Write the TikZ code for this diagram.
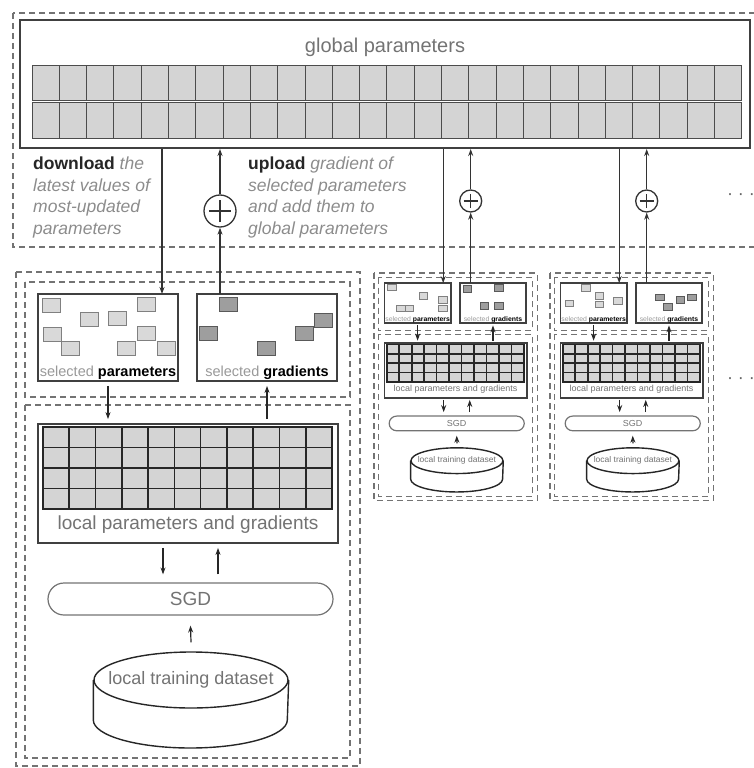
\documentclass[tikz,border=0pt]{standalone}
\usepackage{fontspec}
\setmainfont{Liberation Sans}
\usepackage{tikz}
\usetikzlibrary{arrows.meta, shapes.geometric, shapes.misc}

% one worker replica, drawn in its own frame (x right, y down)
\newcommand{\worker}[2]{%
  \draw[dashbox] (0,0) rectangle (344,494);
  \draw[dashbox] (9,10) rectangle (334,125);
  \draw[dashbox] (9,133) rectangle (334,486);
  \node[selbox, label={[sellabel]south:\textcolor{black!40}{selected} \textbf{parameters}}] (sp) at (92,65.5) {};
  \node[selbox, label={[sellabel]south:\textcolor{black!40}{selected} \textbf{gradients}}] (sg) at (251,65.5) {};
  \foreach \x/\y in {#1} \draw[pcell] (\x,\y) rectangle ++(18,14);
  \foreach \x/\y in {#2} \draw[dcell] (\x,\y) rectangle ++(18,14);
  \coordinate (dl) at (146,22);
  \coordinate (ul) at (204,22);
  \node[lpbox] (lp) at (172,211.5) {};
  \draw[lcell] (27,155) rectangle (316,237);
  \foreach \i in {1,...,10} \draw[lcell] (27+26.27*\i,155) -- ++(0,82);
  \foreach \j in {1,2,3} \draw[lcell] (27,155+20.5*\j) -- ++(289,0);
  \node[txt=19] (lpl) at (172,253) {local parameters and gradients};
  \node[sgdbox] (sgd) at (174.5,327) {SGD};
  \node[dbtop, label={[txt=18]center:local training dataset}] (data) at (175,408) {};
  \draw[dbline] (data.west) -- ++(0,40) arc[start angle=180, end angle=360, x radius=97pt, y radius=28pt] -- (data.east);
  \draw[arrow] ([yshift=-4pt]sp.south) -- ([yshift=4pt]sp.south |- lp.north);
  \draw[arrow] ([yshift=4pt]sg.south |- lp.north) -- ([yshift=-4pt]sg.south);
  \draw[arrow] ([xshift=-25pt, yshift=-4pt]lp.south) -- ([xshift=-25pt, yshift=8pt]lp.south |- sgd.north);
  \draw[arrow] ([xshift=30pt, yshift=8pt]lp.south |- sgd.north) -- ([xshift=30pt, yshift=-4pt]lp.south);
  \draw[arrow] ([yshift=9pt]data.north) -- ([yshift=-10pt]sgd.south);
}

\begin{document}
\begin{tikzpicture}[x=1pt, y=-1pt,
    >={Stealth[length=7pt, width=5pt]},
    txt/.style={font=\fontsize{#1}{#1}\selectfont, text=black!55},
    note/.style={align=left, inner sep=0pt, anchor=north west, font=\fontsize{17.5}{21.5}\selectfont\itshape, text=black!45},
    dashbox/.style={draw=black!55, line width=1.1pt, dash pattern=on 6pt off 4pt},
    gbox/.style={rectangle, draw=black!75, line width=2pt, minimum width=730, minimum height=128},
    gcell/.style={draw=black!70, line width=1pt, fill=black!17},
    selbox/.style={rectangle, draw=black!75, line width=1.8pt, fill=white, minimum width=140, minimum height=87},
    sellabel/.style={anchor=south, inner sep=2pt, font=\fontsize{14.5}{14.5}\selectfont},
    pcell/.style={draw=black!50, line width=1pt, fill=black!15},
    dcell/.style={draw=black!65, line width=1pt, fill=black!38},
    lpbox/.style={rectangle, draw=black!75, line width=1.8pt, fill=white, minimum width=300, minimum height=119},
    lcell/.style={draw=black!85, line width=1.6pt, fill=black!17},
    sgdbox/.style={rounded rectangle, draw=black!55, line width=1.2pt, minimum width=285, minimum height=32, inner sep=0pt, txt=19},
    dbtop/.style={ellipse, draw=black!85, line width=1.4pt, fill=white, minimum width=194, minimum height=56, inner sep=0pt},
    dbline/.style={draw=black!85, line width=1.4pt},
    arrow/.style={->, line width=1.2pt, draw=black!85},
    link/.style={line width=1.2pt, draw=black!80},
    plus/.style={circle, draw=black!80, line width=1.3pt, fill=white, inner sep=0pt,
      path picture={\draw[line width=1.3pt] (path picture bounding box.center) ++(-#1,0pt) -- ++(2*#1,0pt)
        (path picture bounding box.center) ++(0pt,-#1) -- ++(0pt,2*#1);}}]
  \clip (0,0) rectangle (754,768);
  % global parameter server
  \draw[dashbox] (13,13) rectangle (780,247);
  \node[gbox] (global) at (385,84) {};
  \node[txt=20] (gtitle) at (385,47) {global parameters};
  \foreach \i in {0,...,25} {
    \draw[gcell] (32+27.3*\i,66) rectangle ++(27.3,34);
    \draw[gcell] (32+27.3*\i,102) rectangle ++(27.3,36);
  }
  \node[note] (down) at (33,157) {\textcolor{black!85}{\upshape\bfseries download} the\\ latest values of\\ most-updated\\ parameters};
  \node[note] (up) at (248,157) {\textcolor{black!85}{\upshape\bfseries upload} gradient of\\ selected parameters\\ and add them to\\ global parameters};
  \node[txt=18, text=black!60] (more1) at (741,197) {· · ·};
  \node[txt=18, text=black!60] (more2) at (741,381) {· · ·};

  % replicas
  \begin{scope}[shift={(16,272)}, name prefix=w1-]
    \worker{26/26, 121/25, 64/40, 92/39, 27/55, 121/54, 45/69, 101/69, 141/69}{203/25, 298/41, 183/54, 279/54, 241/69}
  \end{scope}
  \begin{scope}[shift={(374,273)}, xscale=0.474, yscale=0.46, transform shape, name prefix=w2-]
    \worker{29/24, 95/43, 48/70, 66/70, 137/52, 137/70}{188/28, 255/26, 224/65, 255/65}
  \end{scope}
  \begin{scope}[shift={(550,273)}, xscale=0.474, yscale=0.46, transform shape, name prefix=w3-]
    \worker{67/26, 32/59, 95/43, 95/61, 135/54}{223/46, 240/67, 266/52, 291/46}
  \end{scope}

  % download / upload
  \node[plus=11pt, minimum size=32pt] (plus1) at (w1-ul |- 0,211) {};
  \node[plus=7pt, minimum size=22pt] (plus2) at (w2-ul |- 0,201) {};
  \node[plus=7pt, minimum size=22pt] (plus3) at (w3-ul |- 0,201) {};
  \foreach \w/\p in {w1/plus1, w2/plus2, w3/plus3} {
    \draw[link, ->] (global.south -| \w-dl) -- (\w-dl);
    \draw[link, ->] (\w-ul) -- (\p);
    \draw[link, ->] (\p) -- (\p |- global.south);
  }
\end{tikzpicture}
\end{document}
